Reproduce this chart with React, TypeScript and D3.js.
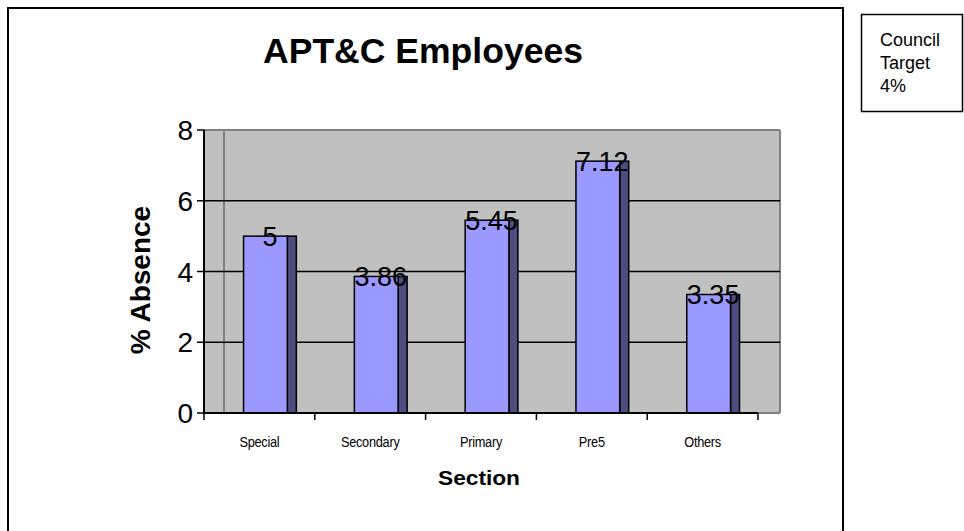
import React from "react";
import * as d3 from "d3";

const categories = ["Special", "Secondary", "Primary", "Pre5", "Others"];
const absence = [5, 3.86, 5.45, 7.12, 3.35];
const yTicks = [0, 2, 4, 6, 8];
const legendLines = ["Council", "Target", "4%"];

const W = 964;
const H = 531;
const plot = { left: 204, right: 758, wallRight: 780, top: 130, bottom: 413, depth: 20 };

export default function App() {
  const x = d3.scaleBand<string>().domain(categories).range([plot.left, plot.right]).padding(0);
  const y = d3.scaleLinear().domain([0, 8]).range([plot.bottom, plot.top]);
  const bw = x.bandwidth();
  const frontOff = bw * 0.357;
  const frontW = bw * 0.395;
  const sideW = 9;
  const font = "Arial, 'Liberation Sans', sans-serif";

  return (
    <svg width={W} height={H} style={{ position: "absolute", left: 0, top: 0 }} fontFamily={font}>
      <rect x={0} y={0} width={W} height={H} fill="#fff" />
      {/* chart frame */}
      <rect x={8} y={8} width={835} height={560} fill="none" stroke="#000" strokeWidth={2} />
      {/* title */}
      <text x={423} y={63} textAnchor="middle" fontSize={35} fontWeight="bold" textLength={320} lengthAdjust="spacingAndGlyphs">
        APT&amp;C Employees
      </text>
      {/* plot area */}
      <rect x={plot.left} y={plot.top} width={plot.wallRight - plot.left} height={plot.bottom - plot.top} fill="#c0c0c0" />
      <line x1={plot.left + plot.depth} x2={plot.left + plot.depth} y1={plot.top} y2={plot.bottom} stroke="#808080" strokeWidth={2} />
      <line x1={plot.left} x2={plot.wallRight} y1={plot.top} y2={plot.top} stroke="#808080" strokeWidth={2} />
      <line x1={plot.wallRight} x2={plot.wallRight} y1={plot.top} y2={plot.bottom} stroke="#808080" strokeWidth={2} />
      <line x1={plot.right} x2={plot.wallRight} y1={plot.bottom} y2={plot.bottom} stroke="#808080" strokeWidth={2} />
      {yTicks.filter((t) => t > 0 && t < 8).map((t) => (
        <line key={t} x1={plot.left} x2={plot.wallRight} y1={y(t)} y2={y(t)} stroke="#000" strokeWidth={1.5} />
      ))}
      {/* bars */}
      {categories.map((c, i) => {
        const x0 = (x(c) as number) + frontOff;
        const top = y(absence[i]);
        return (
          <g key={c}>
            <rect x={x0 + frontW} y={top} width={sideW} height={plot.bottom - top} fill="#4d4d80" stroke="#000" strokeWidth={1.5} />
            <rect x={x0} y={top} width={frontW} height={plot.bottom - top} fill="#9999ff" stroke="#000" strokeWidth={1.5} />
          </g>
        );
      })}
      {/* data labels */}
      {categories.map((c, i) => {
        const x0 = (x(c) as number) + frontOff;
        return (
          <text key={c} x={x0 + (frontW + sideW) / 2} y={y(absence[i]) + 10} textAnchor="middle" fontSize={27}>
            {String(absence[i])}
          </text>
        );
      })}
      {/* y axis */}
      <line x1={plot.left} x2={plot.left} y1={plot.top} y2={plot.bottom} stroke="#000" strokeWidth={2} />
      {yTicks.map((t) => (
        <g key={t}>
          <line x1={plot.left - 7} x2={plot.left} y1={y(t)} y2={y(t)} stroke="#000" strokeWidth={1.5} />
          <text x={193} y={y(t) + 10} textAnchor="end" fontSize={28}>{t}</text>
        </g>
      ))}
      {/* x axis */}
      <line x1={plot.left} x2={plot.right} y1={plot.bottom} y2={plot.bottom} stroke="#000" strokeWidth={2} />
      {[...categories.map((c) => x(c) as number), plot.right].map((v, i) => (
        <line key={i} x1={v} x2={v} y1={plot.bottom} y2={plot.bottom + 7} stroke="#000" strokeWidth={1.5} />
      ))}
      {categories.map((c) => {
        const cx = (x(c) as number) + bw / 2;
        return (
          <text key={c} transform={`translate(${cx},447) scale(0.85,1)`} textAnchor="middle" fontSize={15} letterSpacing={-0.3}>
            {c}
          </text>
        );
      })}
      {/* axis titles */}
      <text transform="translate(150,280) rotate(-90)" textAnchor="middle" fontSize={28} fontWeight="bold">
        % Absence
      </text>
      <text x={479} y={485} textAnchor="middle" fontSize={21} fontWeight="bold" textLength={82} lengthAdjust="spacingAndGlyphs">
        Section
      </text>
      {/* legend box */}
      <rect x={861.5} y={14.5} width={101} height={97} fill="#fff" stroke="#000" strokeWidth={1.5} />
      {legendLines.map((l, i) => (
        <text key={l} x={880} y={46 + i * 23} fontSize={18}>{l}</text>
      ))}
    </svg>
  );
}
